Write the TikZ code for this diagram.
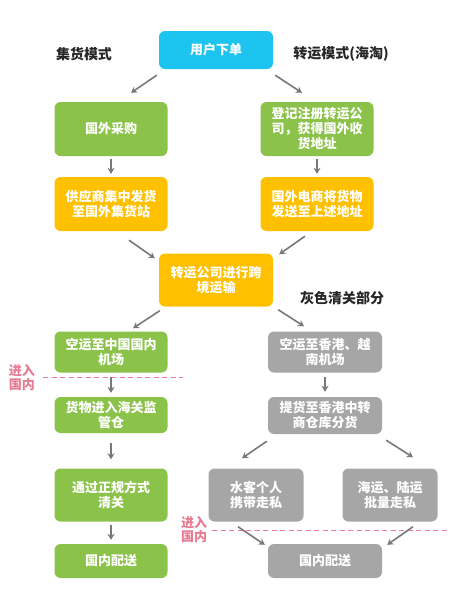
\documentclass[tikz,border=0pt]{standalone}
\usepackage{fontspec}
\newfontfamily\cjk{Noto Sans CJK SC}
\usetikzlibrary{arrows.meta}
\definecolor{boxblue}{RGB}{30,196,240}
\definecolor{boxgreen}{RGB}{139,195,74}
\definecolor{boxorange}{RGB}{255,192,0}
\definecolor{boxgray}{RGB}{166,166,166}
\definecolor{arrgray}{RGB}{120,120,120}
\definecolor{linepink}{RGB}{232,122,145}

\begin{document}
\begin{tikzpicture}[x=1pt,y=-1pt]
            \tikzset{
              Box/.style={rounded corners=6pt,inner sep=0pt,align=center,text=white,
                font=\cjk\bfseries\fontsize{13}{15}\selectfont,minimum width=113pt},
              BlueBox/.style={Box,fill=boxblue},
              GreenBox/.style={Box,fill=boxgreen},
              OrangeBox/.style={Box,fill=boxorange},
              GrayBox/.style={Box,fill=boxgray},
              Title/.style={font=\cjk\bfseries\fontsize{14}{16}\selectfont,text=black!85},
              Enter/.style={font=\cjk\bfseries\fontsize{13}{14}\selectfont,text=linepink,align=left,inner sep=0pt},
              Arr/.style={draw=arrgray,line width=1.6pt,-{Stealth[length=6pt,width=7pt]}},
              Border/.style={draw=linepink,line width=0.9pt,dash pattern=on 5pt off 3.5pt}
            }
            \useasboundingbox (0,0) rectangle (456,608);

            \node[BlueBox,minimum width=114pt,minimum height=38pt] (a_0) at (216,50) {用户下单};
            \node[Title] (t_l) at (84,54) {集货模式};
            \node[Title] (t_r) at (341,54) {转运模式(海淘)};

            \node[GreenBox,minimum height=54pt] (l_1) at (111,129) {国外采购};
            \node[GreenBox,minimum height=54pt] (r_1) at (317,129) {登记注册转运公\\司，获得国外收\\货地址};
            \node[OrangeBox,minimum height=54pt] (l_2) at (111,204) {供应商集中发货\\至国外集货站};
            \node[OrangeBox,minimum height=54pt] (r_2) at (317,204) {国外电商将货物\\发送至上述地址};

            \node[OrangeBox,minimum width=114pt,minimum height=53pt] (m) at (216,280) {转运公司进行跨\\境运输};
            \node[Title] (t_g) at (342,298) {灰色清关部分};

            \node[GreenBox,minimum height=41pt] (l_3) at (111,352) {空运至中国国内\\机场};
            \node[GrayBox,minimum width=114pt,minimum height=41pt] (r_3) at (325,352) {空运至香港、越\\南机场};
            \node[GreenBox,minimum height=36pt] (l_4) at (111,415) {货物进入海关监\\管仓};
            \node[GrayBox,minimum width=114pt,minimum height=37pt] (r_4) at (325,415.5) {提货至香港中转\\商仓库分货};
            \node[GreenBox,minimum height=53pt] (l_5) at (111,495) {通过正规方式\\清关};
            \node[GrayBox,minimum width=95pt,minimum height=53pt] (r_5) at (256,495) {水客个人\\携带走私};
            \node[GrayBox,minimum width=95pt,minimum height=53pt] (r_6) at (390,495) {海运、陆运\\批量走私};
            \node[GreenBox,minimum height=34pt] (l_6) at (111,561) {国内配送};
            \node[GrayBox,minimum width=114pt,minimum height=34pt] (r_7) at (325,561) {国内配送};

            \coordinate (b_1) at (43,377);
            \coordinate (b_2) at (183,377);
            \coordinate (b_3) at (212,530);
            \coordinate (b_4) at (447,530);
            \draw[Border] (b_1) -- (b_2);
            \draw[Border] (b_3) -- (b_4);
            \node[Enter] (e_1) at (22,378) {进入\\国内};
            \node[Enter] (e_2) at (194,530) {进入\\国内};

            \draw[Arr] ([shift={(-2,6)}]a_0.south west) -- ([shift={(20,-9)}]l_1.north);
            \draw[Arr] ([shift={(2,6)}]a_0.south east) -- ([shift={(-15,-9)}]r_1.north);
            \draw[Arr,shorten <=3pt,shorten >=3pt] (l_1) -- (l_2);
            \draw[Arr,shorten <=3pt,shorten >=3pt] (r_1) -- (r_2);
            \draw[Arr] ([shift={(18,9)}]l_2.south) -- ([shift={(-4,5)}]m.north west);
            \draw[Arr] ([shift={(-12,5)}]r_2.south) -- ([shift={(6,1)}]m.north east);
            \draw[Arr] ([shift={(1,4)}]m.south west) -- ([shift={(22,-3)}]l_3.north);
            \draw[Arr] ([shift={(5,3)}]m.south east) -- ([shift={(-21,-5)}]r_3.north);
            \draw[Arr,shorten <=4pt,shorten >=4pt] (l_3) -- (l_4);
            \draw[Arr,shorten <=4pt,shorten >=5pt] (r_3) -- (r_4);
            \draw[Arr,shorten <=10pt,shorten >=9pt] (l_4) -- (l_5);
            \draw[Arr] ([shift={(-1,7)}]r_4.south west) -- ([shift={(-14,-10)}]r_5.north);
            \draw[Arr] ([shift={(4,6)}]r_4.south east) -- ([shift={(23,-11)}]r_6.north);
            \draw[Arr,shorten <=3pt,shorten >=4pt] (l_5) -- (l_6);
            \draw[Arr] ([shift={(-18,5)}]r_5.south) -- ([shift={(-3,1)}]r_7.north west);
            \draw[Arr] ([shift={(23,5)}]r_6.south) -- ([shift={(5,1)}]r_7.north east);
\end{tikzpicture}
\end{document}
